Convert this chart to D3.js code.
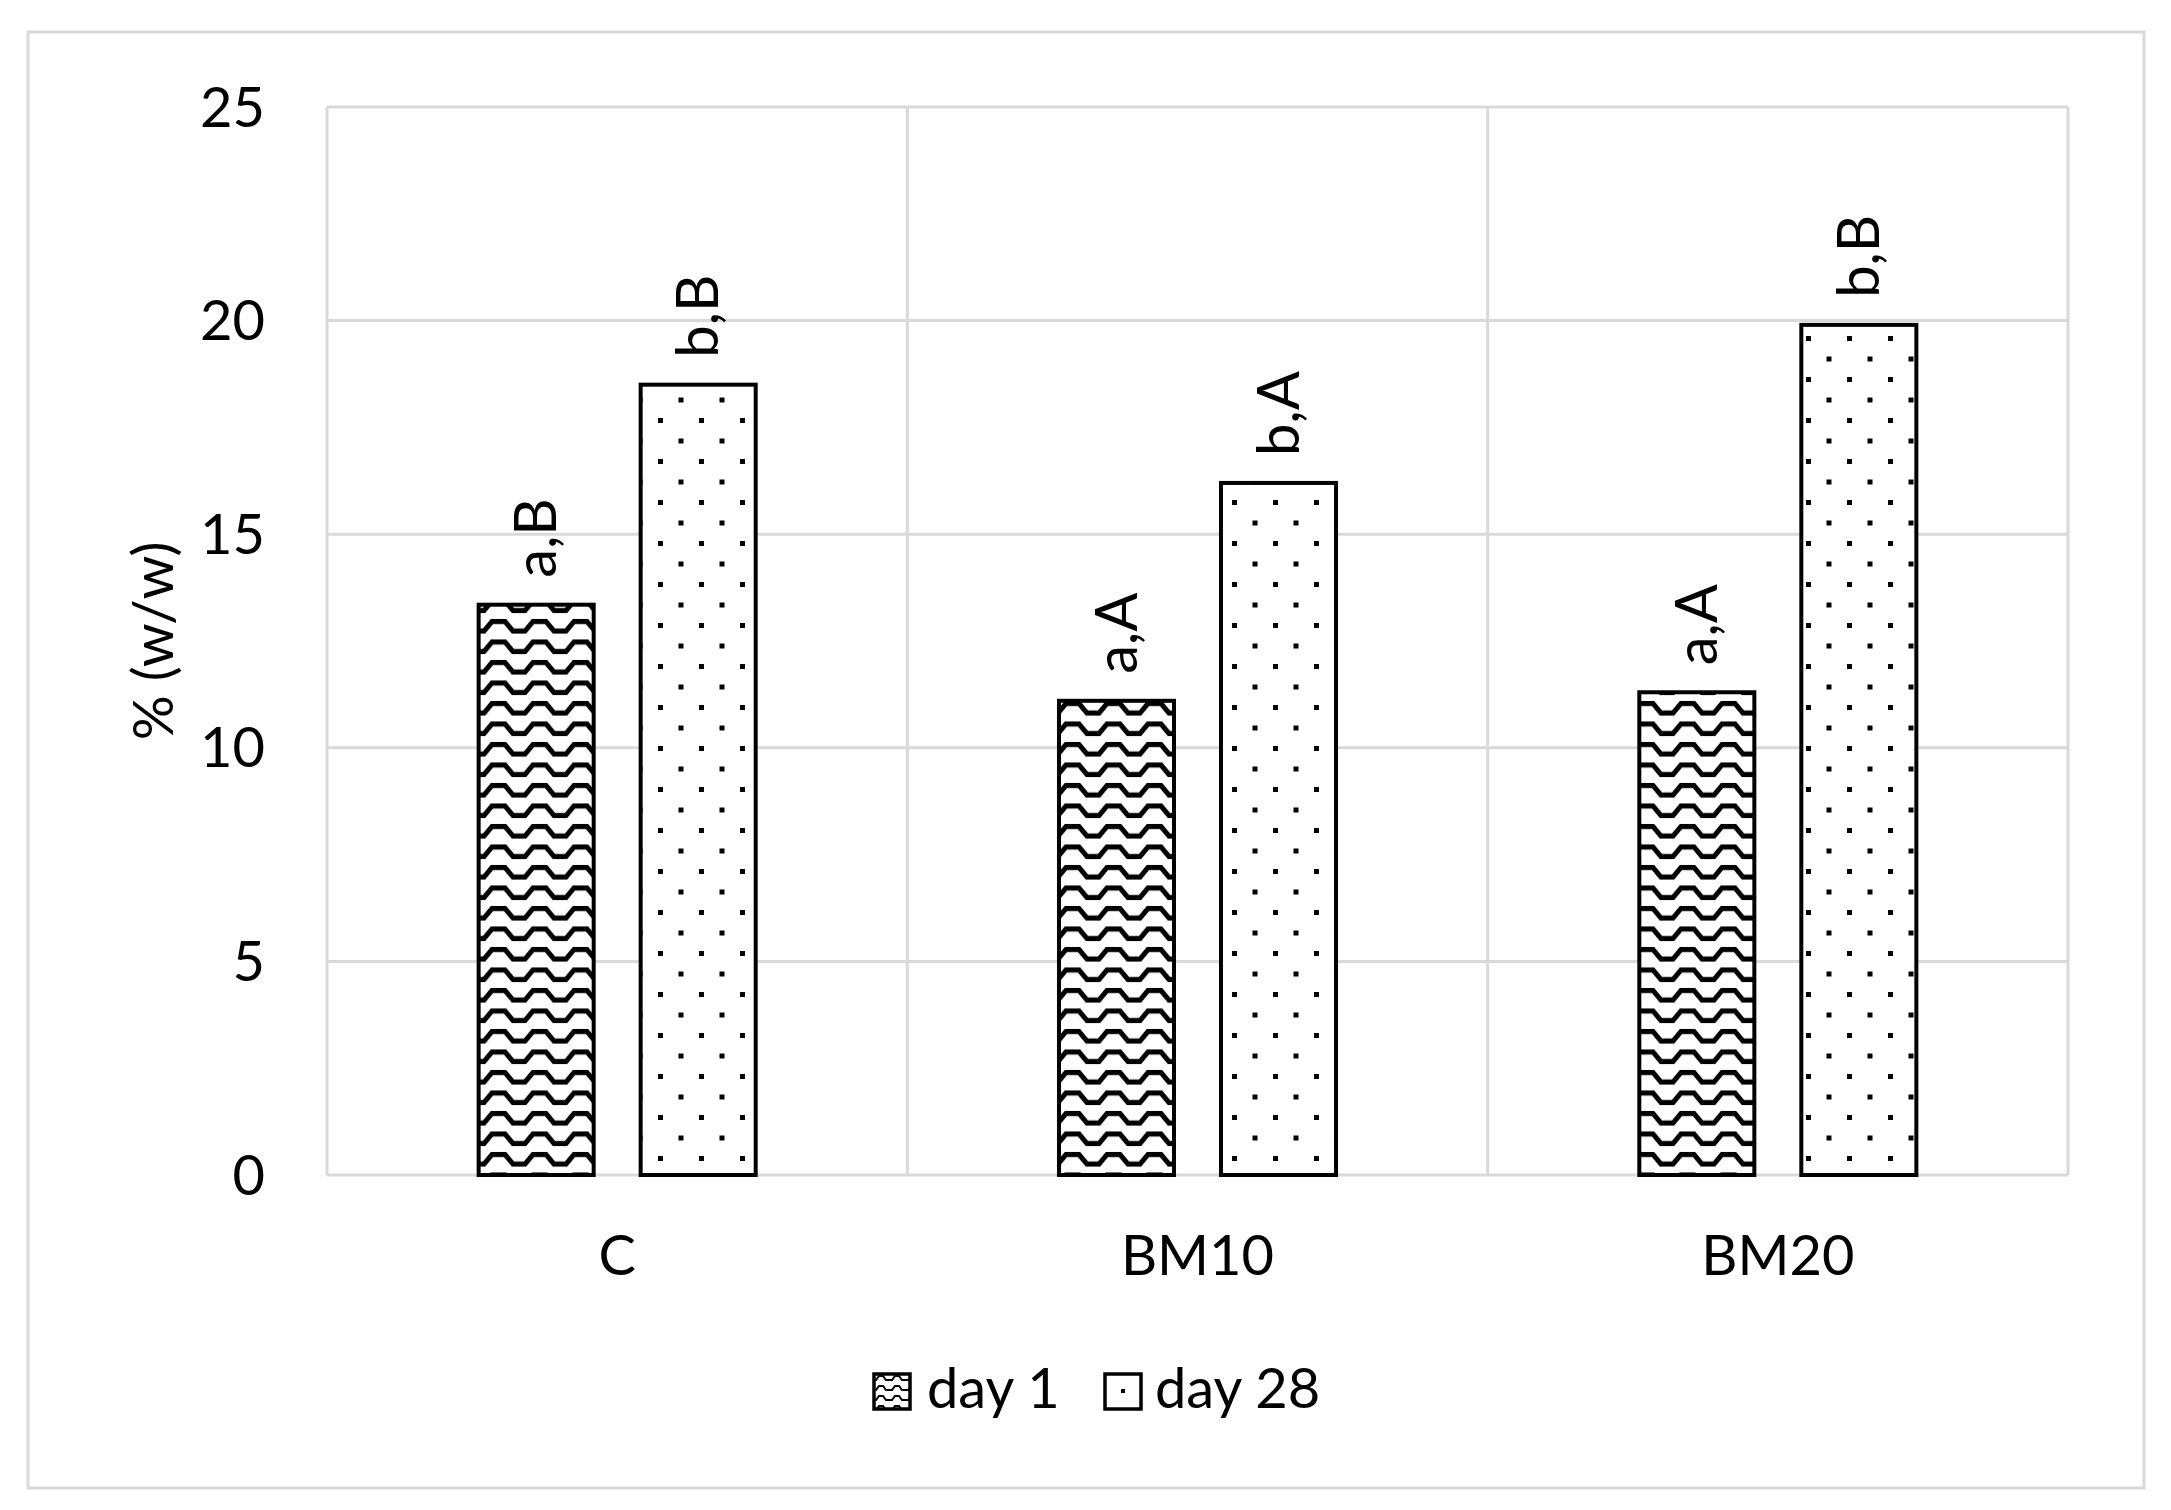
<!DOCTYPE html>
<html>
<head>
<meta charset="utf-8">
<script src="https://cdn.jsdelivr.net/npm/d3@7"></script>
<style>
  html, body { margin: 0; padding: 0; background: #fff; }
  svg { display: block; }
  text { font-family: Lato, "Open Sans", sans-serif; fill: #000; }
</style>
</head>
<body>
<script>
const categories = ["C", "BM10", "BM20"];
const seriesNames = ["day 1", "day 28"];
const day1Values = [13.35, 11.1, 11.3];
const day28Values = [18.5, 16.2, 19.9];
const day1Labels = ["a,B", "a,A", "a,A"];
const day28Labels = ["b,B", "b,A", "b,B"];
const yTicks = [0, 5, 10, 15, 20, 25];

const W = 2171, H = 1510;
const plot = { left: 327, right: 2068, top: 107, bottom: 1175 };
const FS = 56;
const LFS = 58;
const grid = "#d9d9d9";

const svg = d3.select("body").append("svg").attr("width", W).attr("height", H);
svg.append("rect").attr("width", W).attr("height", H).attr("fill", "#fff");

const defs = svg.append("defs");
// wave pattern (day 1)
const wave = defs.append("pattern").attr("id", "wave").attr("patternUnits", "userSpaceOnUse")
  .attr("width", 41).attr("height", 20.5).attr("x", 478).attr("y", 2);
wave.append("rect").attr("width", 41).attr("height", 20.5).attr("fill", "#fff");
wave.append("path")
  .attr("d", "M-4,14 L6,14 L14,4.5 L27,4.5 L35,14 L45,14")
  .attr("fill", "none").attr("stroke", "#000").attr("stroke-width", 5);
// dot pattern (day 28)
const dots = defs.append("pattern").attr("id", "dots").attr("patternUnits", "userSpaceOnUse")
  .attr("width", 41).attr("height", 41).attr("x", 2).attr("y", 8);
dots.append("rect").attr("width", 41).attr("height", 41).attr("fill", "#fff");
dots.append("rect").attr("x", 0).attr("y", 0).attr("width", 5).attr("height", 5).attr("fill", "#000");
dots.append("rect").attr("x", 20.5).attr("y", 20.5).attr("width", 5).attr("height", 5).attr("fill", "#000");
// small legend pattern
const waveS = defs.append("pattern").attr("id", "waveS").attr("patternUnits", "userSpaceOnUse")
  .attr("width", 16).attr("height", 10).attr("x", 873).attr("y", 1373);
waveS.append("rect").attr("width", 16).attr("height", 10).attr("fill", "#fff");
waveS.append("path").attr("d", "M-2,7 L3,7 L6,3 L10,3 L13,7 L18,7")
  .attr("fill", "none").attr("stroke", "#000").attr("stroke-width", 2);

const x0 = d3.scaleBand().domain(categories).range([plot.left, plot.right]).paddingInner(0).paddingOuter(0);
const x1 = d3.scaleBand().domain(seriesNames).range([0, x0.bandwidth()]).paddingInner(0.29).paddingOuter(0.936);
const y = d3.scaleLinear().domain([0, 25]).range([plot.bottom, plot.top]);

// outer chart border
svg.append("rect").attr("x", 28).attr("y", 32).attr("width", 2116).attr("height", 1456)
  .attr("fill", "none").attr("stroke", grid).attr("stroke-width", 3);

// horizontal gridlines
svg.append("g").selectAll("line").data(yTicks).join("line")
  .attr("x1", plot.left).attr("x2", plot.right)
  .attr("y1", d => y(d)).attr("y2", d => y(d))
  .attr("stroke", grid).attr("stroke-width", 3);
// vertical gridlines at category boundaries
const bounds = categories.map(c => x0(c)).concat([x0(categories[categories.length - 1]) + x0.bandwidth()]);
svg.append("g").selectAll("line").data(bounds).join("line")
  .attr("x1", d => d).attr("x2", d => d)
  .attr("y1", plot.top).attr("y2", plot.bottom)
  .attr("stroke", grid).attr("stroke-width", 3);

// y tick labels
svg.append("g").selectAll("text").data(yTicks).join("text")
  .attr("x", 265).attr("y", d => y(d)).attr("dy", "0.35em")
  .attr("text-anchor", "end").attr("font-size", FS).text(d => d);

// y axis title
svg.append("text")
  .attr("transform", `translate(153,${(plot.top + plot.bottom) / 2}) rotate(-90)`)
  .attr("dy", "0.35em").attr("text-anchor", "middle").attr("font-size", FS).text("% (w/w)");

// category labels
svg.append("g").selectAll("text").data(categories).join("text")
  .attr("x", d => x0(d) + x0.bandwidth() / 2).attr("y", 1255).attr("dy", "0.35em")
  .attr("text-anchor", "middle").attr("font-size", FS).text(d => d);

// bars
const data = [];
categories.forEach((c, i) => {
  data.push({ cat: c, s: seriesNames[0], v: day1Values[i], label: day1Labels[i], fill: "url(#wave)" });
  data.push({ cat: c, s: seriesNames[1], v: day28Values[i], label: day28Labels[i], fill: "url(#dots)" });
});

svg.append("g").selectAll("rect").data(data).join("rect")
  .attr("x", d => x0(d.cat) + x1(d.s))
  .attr("y", d => y(d.v))
  .attr("width", x1.bandwidth())
  .attr("height", d => y(0) - y(d.v))
  .attr("fill", d => d.fill)
  .attr("stroke", "#000").attr("stroke-width", 4);

// data labels (rotated)
svg.append("g").selectAll("text").data(data).join("text")
  .attr("transform", d => `translate(${x0(d.cat) + x1(d.s) + x1.bandwidth() / 2},${y(d.v) - 27}) rotate(-90)`)
  .attr("dy", "0.35em").attr("text-anchor", "start").attr("font-size", LFS).text(d => d.label);

// legend
const legendItems = [
  { name: seriesNames[0], sx: 874, tx: 927, fill: "url(#waveS)", dot: false },
  { name: seriesNames[1], sx: 1105, tx: 1155, fill: "#fff", dot: true }
];
const lg = svg.append("g");
legendItems.forEach(it => {
  lg.append("rect").attr("x", it.sx).attr("y", 1374).attr("width", 36).attr("height", 35)
    .attr("fill", it.fill).attr("stroke", "#000").attr("stroke-width", 3.5);
  if (it.dot) {
    lg.append("rect").attr("x", it.sx + 16).attr("y", 1389).attr("width", 4).attr("height", 4).attr("fill", "#000");
  }
  lg.append("text").attr("x", it.tx).attr("y", 1408).attr("font-size", FS).text(it.name);
});
</script>
</body>
</html>
